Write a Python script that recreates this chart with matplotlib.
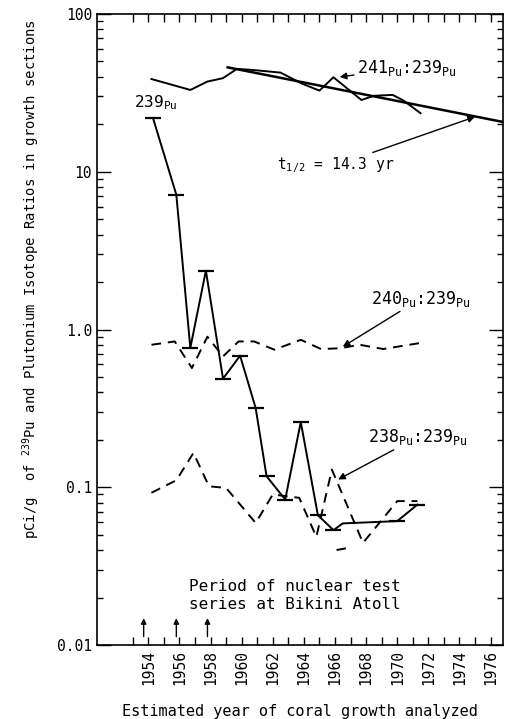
import matplotlib
matplotlib.use("Agg")
import matplotlib.pyplot as plt

plt.rcParams['font.family'] = ['DejaVu Sans Mono', 'DejaVu Sans']
plt.rcParams['mathtext.default'] = 'regular'

# 239Pu concentration (pCi/g) with caps
pu239_years = [1954.3, 1955.8, 1956.7, 1957.7, 1958.8, 1959.9, 1960.9, 1961.6,
               1962.8, 1963.8, 1964.9, 1965.9, 1966.5, 1970.0, 1971.3]
pu239_vals = [21.9, 7.15, 0.764, 2.36, 0.488, 0.682, 0.318, 0.1175,
              0.0836, 0.259, 0.0665, 0.0535, 0.059, 0.061, 0.0776]
pu239_caps = [True, True, True, True, True, True, True, True,
              True, True, True, True, False, True, True]

# 241Pu:239Pu ratio
r241_years = [1954.2, 1956.7, 1957.8, 1958.8, 1959.7, 1960.8, 1962.5, 1963.9,
              1965.0, 1965.9, 1967.7, 1968.5, 1969.7, 1970.4, 1971.5]
r241_vals = [38.7, 33.0, 37.3, 39.2, 44.9, 44.1, 42.5, 36.1,
             32.7, 39.7, 28.5, 30.3, 30.7, 28.3, 23.5]

# fitted decay line (t1/2 = 14.3 yr), end points
fit_years = [1959.1, 1977.0]
fit_vals = [45.9, 20.5]

# 240Pu:239Pu ratio
r240_years = [1954.2, 1955.7, 1956.8, 1957.8, 1958.8, 1959.8, 1960.8, 1962.1,
              1963.8, 1965.1, 1966.3, 1967.6, 1969.1, 1971.5]
r240_vals = [0.80, 0.84, 0.57, 0.90, 0.675, 0.84, 0.84, 0.745,
             0.86, 0.752, 0.76, 0.80, 0.752, 0.822]

# 238Pu:239Pu ratio
r238_years = [1954.2, 1955.8, 1956.9, 1957.9, 1959.0, 1960.9, 1962.0, 1963.7,
              1964.8, 1965.8, 1967.8, 1970.0, 1971.3]
r238_vals = [0.0923, 0.1107, 0.165, 0.1014, 0.099, 0.0594, 0.090, 0.0857,
             0.0485, 0.1294, 0.0444, 0.0817, 0.0817]
r238_frag_years = [1966.1, 1966.7]
r238_frag_vals = [0.040, 0.041]

# nuclear test series at Bikini
test_years = [1953.7, 1955.8, 1957.8]

tick_years = list(range(1953, 1977))
label_years = list(range(1954, 1977, 2))
ytick_vals = [0.01, 0.1, 1.0, 10, 100]
ytick_labels = ['0.01', '0.1', '1.0', '10', '100']

fig = plt.figure(figsize=(5.06, 7.19), dpi=100)
ax = fig.add_axes([97 / 506, 1 - 645 / 719, 406 / 506, 631 / 719])

ax.set_yscale('log')
ax.set_ylim(0.01, 100)
ax.set_xlim(1950.7, 1976.8)

lw = 1.4
ax.plot(pu239_years, pu239_vals, color='black', lw=lw)
cx = [x for x, c in zip(pu239_years, pu239_caps) if c]
cy = [y for y, c in zip(pu239_vals, pu239_caps) if c]
ax.plot(cx, cy, linestyle='none', marker='_', ms=11, mew=1.6, color='black')

ax.plot(r241_years, r241_vals, color='black', lw=lw)
ax.plot(fit_years, fit_vals, color='black', lw=1.8)

dash = (0, (5, 3.5))
ax.plot(r240_years, r240_vals, color='black', lw=lw, linestyle=dash)
ax.plot(r238_years, r238_vals, color='black', lw=lw, linestyle=dash)
ax.plot(r238_frag_years, r238_frag_vals, color='black', lw=lw, linestyle=dash)

# axes styling
ax.set_xticks(tick_years)
ax.set_xticklabels([str(y) if y in label_years else '' for y in tick_years],
                   rotation=90, fontsize=10.5)
ax.set_yticks(ytick_vals)
ax.set_yticklabels(ytick_labels, fontsize=10.5)
ax.tick_params(axis='both', which='both', direction='in', top=True, right=True,
               width=1.0)
ax.tick_params(axis='x', which='major', length=6)
ax.tick_params(axis='y', which='major', length=10)
ax.tick_params(axis='y', which='minor', length=4.5)
ax.yaxis.set_minor_formatter(matplotlib.ticker.NullFormatter())
for s in ax.spines.values():
    s.set_linewidth(1.2)

ax.set_xlabel('Estimated year of coral growth analyzed', fontsize=11, labelpad=14)
ax.set_ylabel('pCi/g  of $^{239}$Pu and Plutonium Isotope Ratios in growth sections',
              fontsize=10)
ax.yaxis.set_label_coords(-0.135, 0.58)

# annotations
arr = dict(arrowstyle='-|>', color='black', lw=1.0, mutation_scale=10,
           shrinkA=0, shrinkB=0)
ax.text(1953.1, 25.5, '239$_{Pu}$', fontsize=11.5)
ax.annotate('241$_{Pu}$:239$_{Pu}$', xy=(1966.3, 39.9), xytext=(1967.4, 45.5),
            fontsize=12, va='center', arrowprops=arr)
ax.annotate('t$_{1/2}$ = 14.3 yr', xy=(1975.0, 22.3), xytext=(1962.3, 11.0),
            fontsize=10.5, va='center', arrowprops=arr)
ax.annotate('240$_{Pu}$:239$_{Pu}$', xy=(1966.5, 0.778), xytext=(1968.3, 1.57),
            fontsize=12, va='center', arrowprops=arr)
ax.annotate('238$_{Pu}$:239$_{Pu}$', xy=(1966.2, 0.112), xytext=(1968.1, 0.208),
            fontsize=12, va='center', arrowprops=arr)

ax.text(1956.6, 0.0205, 'Period of nuclear test\nseries at Bikini Atoll',
        fontsize=11.5, va='center', ha='left', linespacing=1.25)
for yr in test_years:
    ax.annotate('', xy=(yr, 0.0148), xytext=(yr, 0.0113),
                arrowprops=dict(arrowstyle='-|>', color='black', lw=1.0,
                                mutation_scale=8, shrinkA=0, shrinkB=0))

fig.savefig('out.png', dpi=100)
